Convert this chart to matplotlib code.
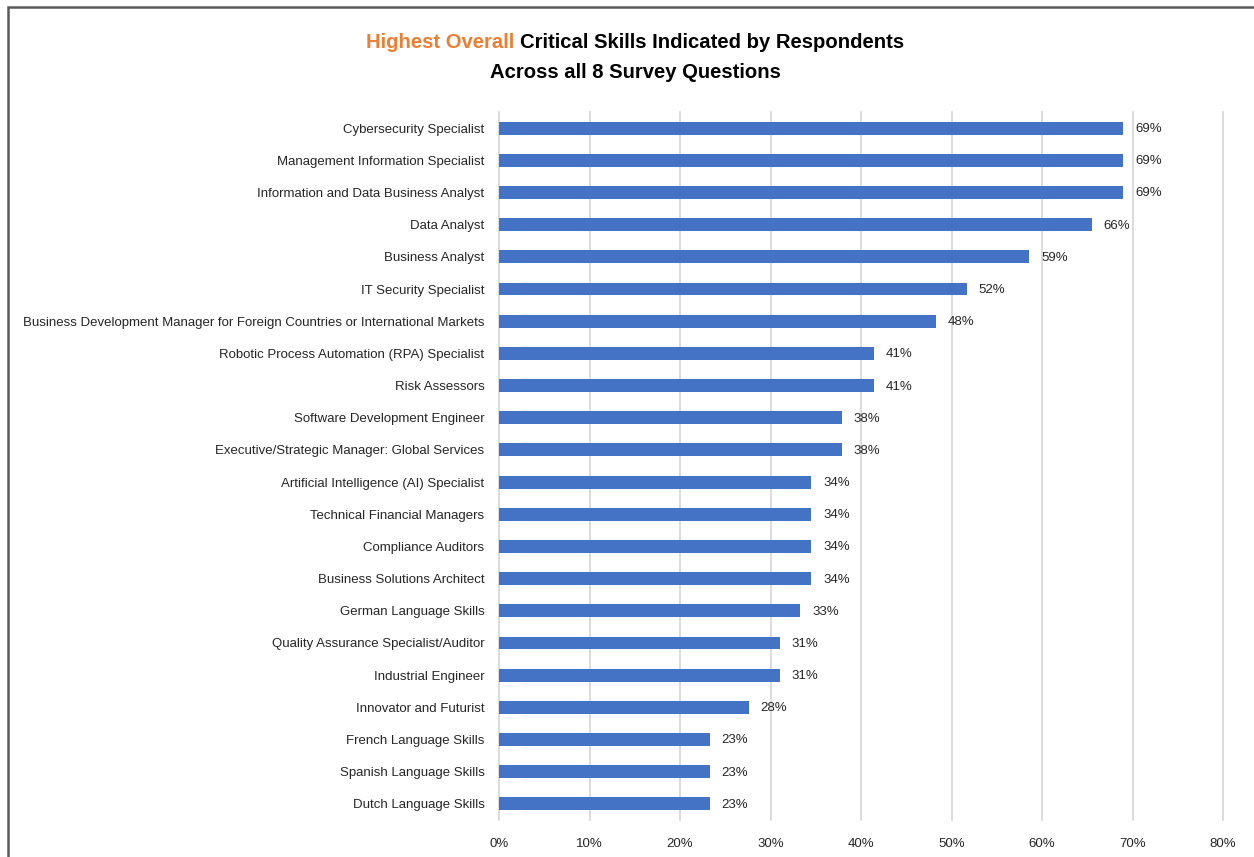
import matplotlib
matplotlib.use("Agg")
import matplotlib.pyplot as plt
from matplotlib.patches import Rectangle
from matplotlib.ticker import PercentFormatter

plt.rcParams['font.family'] = ['Liberation Sans', 'DejaVu Sans']

skills = [
    "Cybersecurity Specialist",
    "Management Information Specialist",
    "Information and Data Business Analyst",
    "Data Analyst",
    "Business Analyst",
    "IT Security Specialist",
    "Business Development Manager for Foreign Countries or International Markets",
    "Robotic Process Automation (RPA) Specialist",
    "Risk Assessors",
    "Software Development Engineer",
    "Executive/Strategic Manager: Global Services",
    "Artificial Intelligence (AI) Specialist",
    "Technical Financial Managers",
    "Compliance Auditors",
    "Business Solutions Architect",
    "German Language Skills",
    "Quality Assurance Specialist/Auditor",
    "Industrial Engineer",
    "Innovator and Futurist",
    "French Language Skills",
    "Spanish Language Skills",
    "Dutch Language Skills",
]
share = [69.0, 69.0, 69.0, 65.5, 58.6, 51.7, 48.3, 41.4, 41.4, 37.9, 37.9,
         34.5, 34.5, 34.5, 34.5, 33.3, 31.0, 31.0, 27.6, 23.3, 23.3, 23.3]

fig = plt.figure(figsize=(12.54, 8.57), dpi=100)
ax = fig.add_axes([0.398, 0.0432, 0.5773, 0.8261])

ypos = list(range(len(skills)))
ax.barh(ypos, share, height=0.4, color='#4472C4', zorder=3)
for y, v in zip(ypos, share):
    ax.text(v + 1.3, y + 0.03, f"{v:.0f}%", va='center', ha='left', fontsize=9.5, color='#262626')

ax.set_xlim(0, 80)
ax.set_ylim(len(skills) - 0.5, -0.5)
ax.set_xticks(range(0, 81, 10))
ax.xaxis.set_major_formatter(PercentFormatter(decimals=0))
ax.set_yticks(ypos)
ax.set_yticklabels(skills)
ax.tick_params(axis='both', length=0, labelsize=9.5, colors='#262626')
ax.tick_params(axis='y', pad=10.5)
ax.tick_params(axis='x', pad=13)
ax.grid(axis='x', color='#d9d9d9', linewidth=1.3, zorder=0)
for gl in ax.get_xgridlines():
    gl.set_clip_on(False)
for s in ax.spines.values():
    s.set_visible(False)

# frame around the chart area
fig.patches.append(Rectangle((8 / 1254, -0.05), 1.2, 1 - 7 / 857 + 0.05,
                             transform=fig.transFigure, fill=False,
                             edgecolor='#595959', linewidth=1.8))

# title: first words in orange, rest in black
fig.canvas.draw()
r = fig.canvas.get_renderer()
tfont = dict(fontsize=14.6, fontweight='bold')
t1 = fig.text(0, 1 - 42 / 857, "Highest Overall ", color='#ED7D31', va='center', **tfont)
t2 = fig.text(0, 1 - 42 / 857, "Critical Skills Indicated by Respondents", color='black', va='center', **tfont)
w1 = t1.get_window_extent(r).width / fig.bbox.width
w2 = t2.get_window_extent(r).width / fig.bbox.width
x0 = 635 / 1254 - (w1 + w2) / 2
t1.set_x(x0)
t2.set_x(x0 + w1)
fig.text(635 / 1254, 1 - 72 / 857, "Across all 8 Survey Questions", ha='center', va='center',
         color='black', **tfont)

fig.savefig("out.png", dpi=100)
